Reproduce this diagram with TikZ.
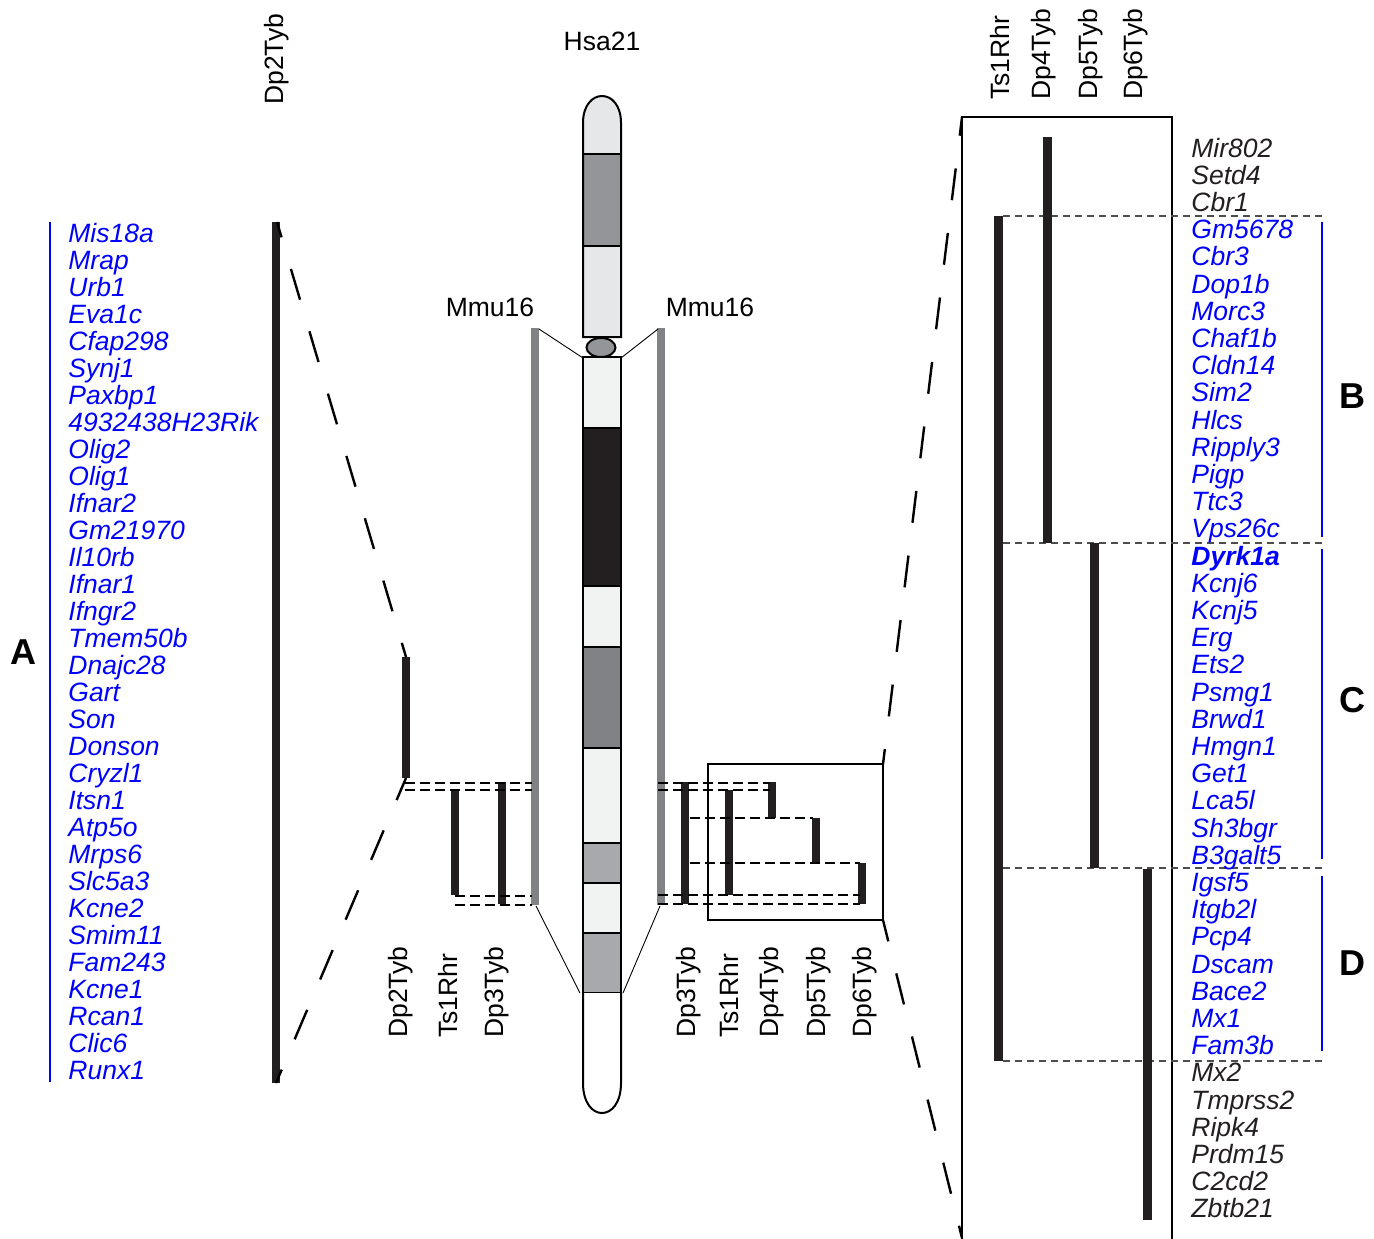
\documentclass[tikz,border=0pt]{standalone}
\usepackage{fontspec}
\setmainfont{Liberation Sans}
\definecolor{barcol}{HTML}{231F20}
\definecolor{graybar}{HTML}{808285}
\definecolor{bandlight}{HTML}{E6E7E8}
\definecolor{bandpale}{HTML}{F1F2F2}
\definecolor{banddark}{HTML}{939598}
\definecolor{bandmid}{HTML}{A7A9AC}
\definecolor{bandgray}{HTML}{808285}
\definecolor{genedark}{HTML}{231F20}
\definecolor{genblue}{HTML}{0000FF}
\definecolor{guide}{HTML}{4D4D4D}
\begin{document}
\begin{tikzpicture}[x=0.5pt,y=-0.5pt,
  txt/.style={inner sep=0pt, font=\fontsize{13.25pt}{16pt}\selectfont},
  gene/.style={txt, anchor=base west, font=\fontsize{13.25pt}{16pt}\selectfont\itshape},
  strain/.style={txt, anchor=base west, rotate=90},
  panel/.style={inner sep=0pt, font=\fontsize{18pt}{21pt}\selectfont\bfseries},
  bar/.style={draw=barcol, line width=4.25pt},
  rbar/.style={draw=barcol, line width=4.5pt},
  mmu/.style={draw=graybar, line width=4pt},
  zoomline/.style={draw=black, line width=1.2pt, dash pattern=on 16pt off 16.5pt},
  tick/.style={draw=black, line width=0.6pt, dash pattern=on 5pt off 2.5pt},
  rtick/.style={draw=guide, line width=0.65pt, dash pattern=on 3.5pt off 2.5pt},
  bracket/.style={draw=genblue, line width=1pt},
  band/.style={draw=black, line width=1pt},
  thin/.style={draw=black, line width=0.45pt}
]
\useasboundingbox (0,0) rectangle (1374,1238);

% ---------------- left gene list (region A) ----------------
\draw[bracket] (50,222) -- (50,1082);
\foreach \g [count=\i from 0] in {Mis18a,Mrap,Urb1,Eva1c,Cfap298,Synj1,Paxbp1,4932438H23Rik,Olig2,Olig1,Ifnar2,Gm21970,Il10rb,Ifnar1,Ifngr2,Tmem50b,Dnajc28,Gart,Son,Donson,Cryzl1,Itsn1,Atp5o,Mrps6,Slc5a3,Kcne2,Smim11,Fam243,Kcne1,Rcan1,Clic6,Runx1}
  \node[gene, text=genblue] (L\i) at (68,{242+27.03*\i}) {\g};
\node[panel] (labA) at (23,652) {A};

% Dp2Tyb full-length bar
\coordinate (dpAt) at (276,222);
\coordinate (dpAb) at (276,1083);
\draw[bar, line width=4pt] (dpAt) -- (dpAb);
\node[strain] (tDp2) at (283,105) {Dp2Tyb};

% ---------------- chromosome Hsa21 ----------------
\node[txt, anchor=base] (hsa) at (602,50) {Hsa21};
\node[txt, anchor=base] (mmuL) at (490,316) {Mmu16};
\node[txt, anchor=base] (mmuR) at (710,316) {Mmu16};

% p arm
\fill[bandlight] (583,154) -- (583,123) .. controls (583,87) and (621,87) .. (621,123) -- (621,154) -- cycle;
\fill[banddark] (583,154) rectangle (621,246);
\fill[bandlight] (583,246) rectangle (621,337);
\draw[band] (583,154) -- (621,154) (583,246) -- (621,246);
\draw[band] (583,337) -- (583,123) .. controls (583,87) and (621,87) .. (621,123) -- (621,337) -- cycle;
% centromere
\draw[band, fill=banddark] (601,347.5) ellipse [x radius=7.25pt, y radius=4.75pt];
% q arm bands
\draw[band, fill=bandpale] (583,357) rectangle (621,428);
\draw[band, fill=barcol] (583,428) rectangle (621,586);
\draw[band, fill=bandpale] (583,586) rectangle (621,647);
\draw[band, fill=bandgray] (583,647) rectangle (621,748);
\draw[band, fill=bandpale] (583,748) rectangle (621,843);
\draw[band, fill=bandmid] (583,843) rectangle (621,883);
\draw[band, fill=bandpale] (583,883) rectangle (621,933);
\draw[band, fill=bandmid] (583,933) rectangle (621,993);
\draw[band, fill=white] (583,993) -- (583,1083) .. controls (583,1123) and (621,1123) .. (621,1083) -- (621,993);

% Mmu16 syntenic region bars and their projection onto Hsa21
\coordinate (mLt) at (535,328); \coordinate (mLb) at (535,905);
\coordinate (mRt) at (661,328); \coordinate (mRb) at (661,905);
\draw[mmu] (mLt) -- (mLb);
\draw[mmu] (mRt) -- (mRb);
\draw[thin] (539,329) -- (583,358);
\draw[thin] (658,329) -- (621,358);
\draw[thin] (536,906) -- (580,993);
\draw[thin] (660,906) -- (623,993);

% ---------------- left strain bars ----------------
\coordinate (s2t) at (406,657); \coordinate (s2b) at (406,778);
\coordinate (sTLt) at (455,790); \coordinate (sTLb) at (455,895);
\coordinate (s3Lt) at (502,782); \coordinate (s3Lb) at (502,904);
\draw[bar] (s2t) -- (s2b);
\draw[bar] (sTLt) -- (sTLb);
\draw[bar] (s3Lt) -- (s3Lb);
\draw[tick] (405,783) -- (532,783);
\draw[tick] (405,790) -- (532,790);
\draw[tick] (455,896) -- (532,896);
\draw[tick] (455,905) -- (532,905);
\node[strain] (bDp2) at (407,1038) {Dp2Tyb};
\node[strain] (bTsL) at (457,1038) {Ts1Rhr};
\node[strain] (bDp3L) at (503,1038) {Dp3Tyb};

% zoom from Dp2Tyb region to the gene list
\draw[zoomline, dash phase=8pt] (277,222) -- (s2t);
\draw[zoomline, dash phase=4pt] (s2b) -- (dpAb);

% ---------------- right strain bars ----------------
\coordinate (s3Rt) at (685,782); \coordinate (s3Rb) at (685,904);
\coordinate (sTRt) at (729,790); \coordinate (sTRb) at (729,895);
\coordinate (s4t) at (772,782); \coordinate (s4b) at (772,818);
\coordinate (s5t) at (816,818); \coordinate (s5b) at (816,863);
\coordinate (s6t) at (862,863); \coordinate (s6b) at (862,904);
\draw[bar] (s3Rt) -- (s3Rb);
\draw[bar] (sTRt) -- (sTRb);
\draw[bar] (s4t) -- (s4b);
\draw[bar] (s5t) -- (s5b);
\draw[bar] (s6t) -- (s6b);
\draw[tick] (658,783) -- (770,783);
\draw[tick] (658,790) -- (770,790);
\draw[tick] (690,818) -- (813,818);
\draw[tick] (690,863) -- (860,863);
\draw[tick] (658,895) -- (860,895);
\draw[tick] (658,904) -- (860,904);
\node[strain] (bDp3R) at (695,1038) {Dp3Tyb};
\node[strain] (bTsR) at (738,1038) {Ts1Rhr};
\node[strain] (bDp4) at (778,1038) {Dp4Tyb};
\node[strain] (bDp5) at (825,1038) {Dp5Tyb};
\node[strain] (bDp6) at (871,1038) {Dp6Tyb};

% inset frame
\coordinate (boxNW) at (708,764); \coordinate (boxSE) at (883,920);
\coordinate (boxNE) at (883,764); \coordinate (boxSE2) at (883,920);
\draw[line width=1pt] (boxNW) rectangle (boxSE);

% ---------------- enlarged right panel ----------------
\coordinate (pNW) at (962,117); \coordinate (pSW) at (962,1238);
\coordinate (pNE) at (1172,117); \coordinate (pSE) at (1172,1240);
\draw[line width=1.2pt] (962,1240) -- (pNW) -- (pNE) -- (pSE);
\draw[zoomline, dash phase=8.5pt] (boxNE) -- (pNW);
\draw[zoomline, dash phase=5pt] (boxSE2) -- (pSW);

\node[strain] (rTs) at (1009,100) {Ts1Rhr};
\node[strain] (rDp4) at (1050,100) {Dp4Tyb};
\node[strain] (rDp5) at (1097,100) {Dp5Tyb};
\node[strain] (rDp6) at (1142,100) {Dp6Tyb};

\draw[rtick] (1003,216) -- (1322,216);
\draw[rtick] (1003,543) -- (1322,543);
\draw[rtick] (1003,868) -- (1322,868);
\draw[rtick] (1003,1061) -- (1322,1061);

\coordinate (rTst) at (998,216); \coordinate (rTsb) at (998,1061);
\coordinate (r4t) at (1047,137); \coordinate (r4b) at (1047,543);
\coordinate (r5t) at (1094,543); \coordinate (r5b) at (1094,868);
\coordinate (r6t) at (1147,869); \coordinate (r6b) at (1147,1220);
\draw[rbar] (rTst) -- (rTsb);
\draw[rbar] (r4t) -- (r4b);
\draw[rbar] (r5t) -- (r5b);
\draw[rbar] (r6t) -- (r6b);

\foreach \g/\c [count=\i from 0] in {Mir802/genedark,Setd4/genedark,Cbr1/genedark,
  Gm5678/genblue,Cbr3/genblue,Dop1b/genblue,Morc3/genblue,Chaf1b/genblue,Cldn14/genblue,Sim2/genblue,Hlcs/genblue,Ripply3/genblue,Pigp/genblue,Ttc3/genblue,Vps26c/genblue,
  \textbf{Dyrk1a}/genblue,Kcnj6/genblue,Kcnj5/genblue,Erg/genblue,Ets2/genblue,Psmg1/genblue,Brwd1/genblue,Hmgn1/genblue,Get1/genblue,Lca5l/genblue,Sh3bgr/genblue,B3galt5/genblue,
  Igsf5/genblue,Itgb2l/genblue,Pcp4/genblue,Dscam/genblue,Bace2/genblue,Mx1/genblue,Fam3b/genblue,
  Mx2/genedark,Tmprss2/genedark,Ripk4/genedark,Prdm15/genedark,C2cd2/genedark,Zbtb21/genedark}
  \node[gene, text=\c] (R\i) at (1191,{157+27.2*\i}) {\g};

\draw[bracket] (1322,222) -- (1322,537);
\draw[bracket] (1322,549) -- (1322,859);
\draw[bracket] (1322,876) -- (1322,1051);
\node[panel] (labB) at (1352,396) {B};
\node[panel] (labC) at (1352,700) {C};
\node[panel] (labD) at (1352,963) {D};
\end{tikzpicture}
\end{document}
